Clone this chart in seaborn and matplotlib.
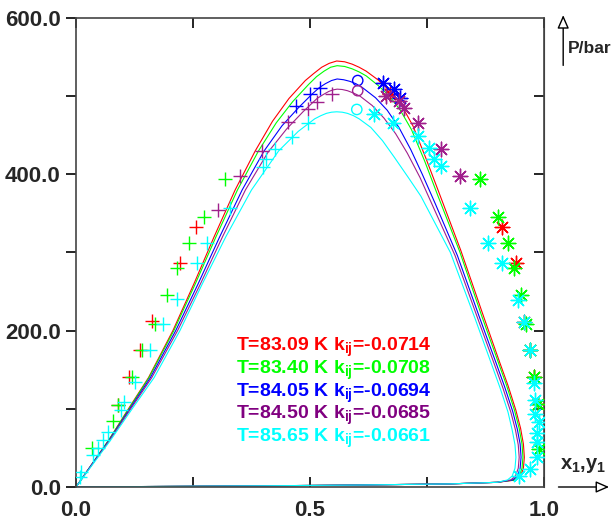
import matplotlib
matplotlib.use('Agg')
import matplotlib.pyplot as plt
import seaborn as sns

# temperatures / kij shown in the in-plot legend
temps = ['83.09', '83.40', '84.05', '84.50', '85.65']
kijs = ['-0.0714', '-0.0708', '-0.0694', '-0.0685', '-0.0661']
colors = ['#ff0000', '#00ff00', '#0000ff', '#a0208c', '#00ffff']
text_colors = ['#ff0000', '#00ff00', '#0000ff', '#800080', '#00ffff']

# calculated envelopes (x1 / y1, P in bar)
red_line_x = [0, 0.035, 0.07, 0.112, 0.155, 0.207, 0.252, 0.295, 0.34, 0.383, 0.42, 0.455, 0.49, 0.508, 0.525,
              0.541, 0.557, 0.574, 0.59, 0.605, 0.62, 0.645, 0.67, 0.695, 0.72, 0.748, 0.776, 0.822, 0.871, 0.905,
              0.923, 0.94, 0.95, 0.956, 0.958, 0.956, 0.95, 0.94, 0.9, 0.8, 0.6, 0.4, 0.2, 0]
red_line_p = [0, 30, 60, 100, 140, 200, 260, 320, 380, 430, 468, 497, 520, 529, 537,
              542, 545, 544, 541, 537, 532, 521, 507, 489, 462, 420, 376, 303, 218, 160,
              130, 98, 75, 55, 38, 24, 14, 9, 6, 4, 2.5, 1.5, 0.8, 0]

green_line_x = [0, 0.035, 0.07, 0.113, 0.156, 0.209, 0.255, 0.299, 0.345, 0.39, 0.428, 0.463, 0.497, 0.514, 0.53,
                0.544, 0.558, 0.574, 0.59, 0.605, 0.62, 0.645, 0.67, 0.693, 0.717, 0.745, 0.773, 0.82, 0.868, 0.902,
                0.92, 0.937, 0.947, 0.953, 0.955, 0.953, 0.947, 0.937, 0.9, 0.8, 0.6, 0.4, 0.2, 0]
green_line_p = [0, 30, 60, 100, 140, 200, 260, 320, 380, 430, 466, 493, 515, 525, 532,
                537, 539, 538, 535, 531, 526, 514, 500, 482, 457, 417, 373, 301, 217, 160,
                130, 98, 75, 55, 38, 24, 14, 9, 6, 4, 2.5, 1.5, 0.8, 0]

blue_line_x = [0, 0.035, 0.071, 0.115, 0.159, 0.213, 0.261, 0.307, 0.355, 0.402, 0.44, 0.475, 0.505, 0.52, 0.533,
               0.546, 0.558, 0.572, 0.585, 0.598, 0.612, 0.64, 0.665, 0.69, 0.715, 0.74, 0.768, 0.815, 0.864, 0.898,
               0.916, 0.933, 0.943, 0.949, 0.951, 0.949, 0.943, 0.933, 0.9, 0.8, 0.6, 0.4, 0.2, 0]
blue_line_p = [0, 30, 60, 100, 140, 200, 260, 320, 380, 430, 462, 485, 503, 511, 516,
               520, 522, 521, 519, 516, 511, 498, 482, 460, 432, 400, 362, 296, 214, 158,
               128, 97, 74, 55, 38, 24, 14, 9, 6, 4, 2.5, 1.5, 0.8, 0]

purple_line_x = [0, 0.036, 0.072, 0.117, 0.162, 0.217, 0.266, 0.313, 0.362, 0.41, 0.45, 0.485, 0.515, 0.528, 0.54,
                 0.549, 0.558, 0.569, 0.58, 0.593, 0.607, 0.633, 0.658, 0.683, 0.708, 0.735, 0.762, 0.81, 0.86, 0.894,
                 0.912, 0.929, 0.939, 0.945, 0.947, 0.945, 0.939, 0.929, 0.9, 0.8, 0.6, 0.4, 0.2, 0]
purple_line_p = [0, 30, 60, 100, 140, 200, 260, 320, 380, 428, 458, 480, 497, 502, 506,
                 508, 509, 508.5, 507, 504, 500, 488, 472, 452, 427, 396, 360, 296, 213, 157,
                 127, 96, 73, 54, 38, 24, 14, 9, 6, 4, 2.5, 1.5, 0.8, 0]

cyan_line_x = [0, 0.037, 0.074, 0.12, 0.167, 0.222, 0.27, 0.32, 0.375, 0.433, 0.475, 0.51, 0.523, 0.535, 0.546,
               0.557, 0.569, 0.58, 0.593, 0.605, 0.63, 0.655, 0.68, 0.71, 0.737, 0.8, 0.853, 0.888, 0.906, 0.923,
               0.932, 0.938, 0.94, 0.938, 0.932, 0.922, 0.9, 0.8, 0.6, 0.4, 0.2, 0]
cyan_line_p = [0, 30, 60, 100, 140, 200, 260, 320, 380, 430, 455, 471, 475, 478, 479.5,
               480, 479.5, 478, 475, 471, 460, 443, 422, 396, 372, 300, 215, 157, 127, 96,
               73, 54, 38, 24, 14, 9, 6, 4, 2.5, 1.5, 0.8, 0]

# experimental bubble points (+)
red_bub_x = [0.09, 0.113, 0.137, 0.163, 0.223, 0.257]
red_bub_p = [105, 141, 175, 212, 286, 332]
green_bub_x = [0.034, 0.08, 0.09, 0.12, 0.141, 0.169, 0.195, 0.216, 0.242, 0.274, 0.319]
green_bub_p = [50, 84, 105, 141, 175, 208, 245, 280, 312, 346, 394]
blue_bub_x = [0.47, 0.501, 0.522]
blue_bub_p = [488, 503, 511]
purple_bub_x = [0.304, 0.351, 0.398, 0.454, 0.495, 0.516, 0.548]
purple_bub_p = [354, 398, 430, 467, 484, 492, 503]
cyan_bub_x = [0.011, 0.009, 0.036, 0.047, 0.058, 0.068, 0.096, 0.103, 0.126, 0.158, 0.186, 0.216, 0.259,
              0.28, 0.33, 0.40, 0.407, 0.426, 0.462, 0.495]
cyan_bub_p = [19, 13, 41, 50, 60, 70, 98, 109, 134, 175, 209, 240, 286,
              312, 357, 410, 419, 433, 448, 466]

# experimental dew points (asterisks)
red_dew_x = [0.672, 0.91, 0.94, 0.957, 0.97, 0.979, 0.987]
red_dew_p = [503, 332, 286, 211, 175, 141, 106]
green_dew_x = [0.863, 0.901, 0.923, 0.936, 0.951, 0.961, 0.97, 0.979, 0.987, 0.99]
green_dew_p = [394, 346, 312, 280, 245, 208, 175, 141, 106, 48]
blue_dew_x = [0.657, 0.679, 0.692]
blue_dew_p = [517, 509, 498]
purple_dew_x = [0.662, 0.69, 0.70, 0.73, 0.779, 0.82]
purple_dew_p = [500, 494, 485, 466, 433, 398]
cyan_dew_x = [0.636, 0.677, 0.73, 0.754, 0.765, 0.779, 0.842, 0.88, 0.91, 0.944, 0.957, 0.97, 0.979, 0.98,
              0.98, 0.99, 0.985, 0.986, 0.986, 0.97, 0.946]
cyan_dew_p = [477, 466, 449, 434, 420, 411, 357, 312, 286, 239, 211, 175, 133, 111,
              94, 83, 69, 57, 38, 23, 14]

# critical points (open circles)
blue_crit_x = [0.602]
blue_crit_p = [520]
purple_crit_x = [0.602]
purple_crit_p = [507]
cyan_crit_x = [0.60]
cyan_crit_p = [483]

lines = [(red_line_x, red_line_p), (green_line_x, green_line_p), (blue_line_x, blue_line_p),
         (purple_line_x, purple_line_p), (cyan_line_x, cyan_line_p)]
bubs = [(red_bub_x, red_bub_p), (green_bub_x, green_bub_p), (blue_bub_x, blue_bub_p),
        (purple_bub_x, purple_bub_p), (cyan_bub_x, cyan_bub_p)]
dews = [(red_dew_x, red_dew_p), (green_dew_x, green_dew_p), (blue_dew_x, blue_dew_p),
        (purple_dew_x, purple_dew_p), (cyan_dew_x, cyan_dew_p)]
crits = [None, None, (blue_crit_x, blue_crit_p), (purple_crit_x, purple_crit_p), (cyan_crit_x, cyan_crit_p)]

sns.set_style('white')
plt.rcParams['font.family'] = ['Liberation Sans', 'DejaVu Sans']
plt.rcParams['font.weight'] = 'bold'
plt.rcParams['mathtext.default'] = 'regular'

fig = plt.figure(figsize=(6.15, 5.29), dpi=100)
ax = fig.add_axes([76 / 615, 1 - 487 / 529, 468 / 615, 469 / 529])

for i in range(5):
    c = colors[i]
    lx, lp = lines[i]
    sns.lineplot(x=lx, y=lp, sort=False, estimator=None, color=c, lw=0.8, ax=ax)
    bx, bp = bubs[i]
    sns.scatterplot(x=bx, y=bp, marker='+', s=100, color=c, linewidth=1.0, ax=ax, zorder=3)
    dx, dp = dews[i]
    sns.scatterplot(x=dx, y=dp, marker=(8, 2, 0), s=110, color=c, linewidth=1.0, ax=ax, zorder=3)
    if crits[i] is not None:
        cx, cp = crits[i]
        sns.scatterplot(x=cx, y=cp, marker='o', s=55, color=c, facecolor='none', edgecolor=c,
                        linewidth=1.0, ax=ax, zorder=3)

# legend text block
for i in range(5):
    ax.text(0.551, 178 - 29 * i, 'T=' + temps[i] + ' K k$_{ij}$=' + kijs[i],
            color=text_colors[i], fontsize=14, fontweight='bold', va='center', ha='center')

ax.set_xlim(0, 1)
ax.set_ylim(0, 600)
ax.set_xticks([0, 0.5, 1.0])
ax.set_xticklabels(['0.0', '0.5', '1.0'])
ax.set_xticks([0.25, 0.75], minor=True)
ax.set_yticks([0, 200, 400, 600])
ax.set_yticklabels(['0.0', '200.0', '400.0', '600.0'])
ax.set_yticks([100, 300, 500], minor=True)
ax.tick_params(axis='x', which='both', direction='in', top=True, bottom=True, length=7, width=1.2,
               color='black', labelsize=16, pad=9)
ax.tick_params(axis='y', which='both', direction='out', left=True, right=False, length=7, width=1.2,
               color='black', labelsize=16, pad=4)
for lab in ax.get_xticklabels() + ax.get_yticklabels():
    lab.set_fontweight('bold')

sec = ax.secondary_yaxis('right')
sec.set_yticks([100, 200, 300, 400, 500])
sec.set_yticklabels([])
sec.tick_params(direction='in', length=7, width=1.2, color='black')
sec.spines['right'].set_color('#333333')

for sp in ax.spines.values():
    sp.set_color('#444444')
    sp.set_linewidth(1.2)

ax.set_xlabel('')
ax.set_ylabel('')

# axis arrows and labels
ax.annotate('', xy=(1.145, 0), xytext=(1.025, 0), xycoords='axes fraction', textcoords='axes fraction',
            annotation_clip=False,
            arrowprops=dict(arrowstyle='-|>,head_length=0.8,head_width=0.35', fc='white', ec='black', lw=1))
ax.text(1.035, 0.045, 'x$_1$,y$_1$', transform=ax.transAxes, fontsize=14.5, fontweight='bold',
        ha='left', va='center', clip_on=False)
ax.annotate('', xy=(1.041, 1.012), xytext=(1.041, 0.893), xycoords='axes fraction', textcoords='axes fraction',
            annotation_clip=False,
            arrowprops=dict(arrowstyle='-|>,head_length=0.8,head_width=0.35', fc='white', ec='black', lw=1))
ax.text(1.051, 0.935, 'P/bar', transform=ax.transAxes, fontsize=12.5, fontweight='bold',
        ha='left', va='center', clip_on=False)

fig.savefig('out.png', dpi=100)
plt.close(fig)
